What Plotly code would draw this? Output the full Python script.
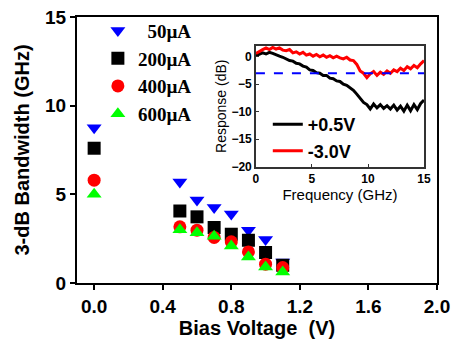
import plotly.graph_objects as go

# ---------------- main data ----------------
bias_v = [0.0, 0.5, 0.6, 0.7, 0.8, 0.9, 1.0, 1.1]
bw_50uA = [8.75, 5.7, 4.68, 4.26, 3.89, 2.98, 2.45, 1.19]
bw_200uA = [7.6, 4.06, 3.73, 3.13, 2.75, 2.41, 1.72, 1.0]
bw_400uA = [5.8, 3.17, 2.98, 2.57, 2.32, 1.75, 1.06, 0.87]
bw_600uA = [5.0, 3.0, 2.83, 2.64, 2.08, 1.47, 0.9, 0.62]
series_names = ["&nbsp;&nbsp;50µA", "200µA", "400µA", "600µA"]
x_ticks = [0.0, 0.4, 0.8, 1.2, 1.6, 2.0]
y_ticks = [0, 5, 10, 15]

# ---------------- inset data ----------------
freq_ghz = [0.0, 0.3, 0.6, 0.9, 1.2, 1.5, 1.8, 2.1, 2.4, 2.7, 3.0, 3.3, 3.6, 3.9,
            4.2, 4.5, 4.8, 5.1, 5.4, 5.7, 6.0, 6.3, 6.6, 6.9, 7.2, 7.5, 7.8, 8.1,
            8.4, 8.7, 9.0, 9.3, 9.6, 9.9, 10.2, 10.5, 10.8, 11.1, 11.4, 11.7,
            12.0, 12.3, 12.6, 12.9, 13.2, 13.5, 13.8, 14.1, 14.4, 14.7, 15.0]
resp_pos05 = [0.2, 0.5, 0.7, 0.5, 0.8, 0.6, 0.3, 0.1, -0.1, -0.4, -0.7, -0.8, -1.2,
              -1.3, -1.7, -1.9, -2.4, -2.5, -2.9, -3.0, -3.4, -3.4, -3.9, -4.0,
              -4.4, -4.5, -5.0, -5.2, -5.7, -6.1, -6.8, -7.5, -8.3, -8.7, -9.5,
              -8.6, -9.3, -8.7, -9.4, -8.9, -9.5, -8.8, -9.7, -9.0, -9.9, -8.8,
              -9.8, -8.7, -9.6, -8.5, -7.9]
resp_neg30 = [0.6, 1.0, 1.3, 1.6, 1.3, 1.7, 1.4, 1.6, 1.2, 1.1, 1.3, 0.7, 0.9, 0.5,
              0.8, 0.3, 0.5, 0.1, 0.4, 0.0, 0.3, -0.1, 0.2, -0.2, 0.1, -0.2, -0.4,
              -0.1, -0.6, -0.7, -1.4, -2.6, -3.0, -3.8, -3.1, -2.7, -3.4, -2.8,
              -3.2, -2.6, -3.0, -2.4, -2.7, -2.1, -2.5, -1.8, -2.2, -1.6, -2.0,
              -1.3, -0.7]
threshold_db = -3
inset_x_ticks = [0, 5, 10, 15]
inset_y_ticks = [0, -5, -10, -15, -20]

fig = go.Figure()

styles = [
    ("triangle-down", "#0000FF", bw_50uA),
    ("square", "#000000", bw_200uA),
    ("circle", "#FF0000", bw_400uA),
    ("triangle-up", "#00FF00", bw_600uA),
]
for name, (sym, col, vals) in zip(series_names, styles):
    fig.add_trace(go.Scatter(
        x=bias_v, y=vals, mode="markers", name=name,
        marker=dict(symbol=sym, color=col, size=13, line=dict(width=0)),
        legend="legend", xaxis="x", yaxis="y",
    ))

fig.add_trace(go.Scatter(
    x=freq_ghz, y=resp_pos05, mode="lines", name="+0.5V",
    line=dict(color="#000000", width=3), xaxis="x2", yaxis="y2", legend="legend2",
))
fig.add_trace(go.Scatter(
    x=freq_ghz, y=resp_neg30, mode="lines", name="-3.0V",
    line=dict(color="#FF0000", width=3), xaxis="x2", yaxis="y2", legend="legend2",
))

fig.add_shape(type="line", xref="x2 domain", x0=0, x1=1, yref="y2",
              y0=threshold_db, y1=threshold_db,
              line=dict(color="#0000FF", width=2, dash="dash"))

bold_font = dict(family="Liberation Sans, Arial", color="black", weight="bold")

fig.update_layout(
    width=453, height=345,
    margin=dict(l=77, r=16, t=17, b=62, autoexpand=False),
    paper_bgcolor="white", plot_bgcolor="white",
    showlegend=True,
    xaxis=dict(
        range=[-0.1, 2.0], tickvals=x_ticks, ticktext=[f"{v:.1f}" for v in x_ticks],
        showline=True, mirror=True, linecolor="black", linewidth=2,
        ticks="outside", ticklen=5, tickwidth=2, tickcolor="black",
        showgrid=False, zeroline=False, automargin=False,
        tickfont=dict(size=19, **bold_font),
        title=dict(text="Bias Voltage  (V)", font=dict(size=20, **bold_font), standoff=4),
    ),
    yaxis=dict(
        range=[0, 15], tickvals=y_ticks,
        showline=True, mirror=True, linecolor="black", linewidth=2,
        ticks="outside", ticklen=5, tickwidth=2, tickcolor="black",
        showgrid=False, zeroline=False, automargin=False,
        tickfont=dict(size=19, **bold_font),
        title=dict(text="3-dB Bandwidth (GHz)", font=dict(size=20, **bold_font), standoff=10),
    ),
    xaxis2=dict(
        domain=[0.497, 0.964], anchor="y2", range=[0, 15], tickvals=inset_x_ticks,
        showline=True, mirror=True, linecolor="#333333", linewidth=1.5,
        ticks="inside", ticklen=3, tickcolor="#333333",
        showgrid=False, zeroline=False, automargin=False,
        tickfont=dict(size=12, **bold_font),
        title=dict(text="Frequency (GHz)", font=dict(size=15, family="Liberation Sans, Arial", color="black"), standoff=2),
    ),
    yaxis2=dict(
        domain=[0.437, 0.892], anchor="x2", range=[-20, 2], tickvals=inset_y_ticks,
        showline=True, mirror=True, linecolor="#333333", linewidth=1.5,
        ticks="inside", ticklen=3, tickcolor="#333333",
        showgrid=False, zeroline=False, automargin=False,
        tickfont=dict(size=12, **bold_font),
        title=dict(text="Response (dB)", font=dict(size=14, family="Liberation Sans, Arial", color="black"), standoff=2),
    ),
    legend=dict(
        x=0.058, y=1.02, xanchor="left", yanchor="top",
        bgcolor="rgba(0,0,0,0)", borderwidth=0,
        font=dict(family="Liberation Serif, Times New Roman", size=19, color="black", weight="bold"),
        tracegroupgap=0,
    ),
    legend2=dict(
        x=0.53, y=0.665, xanchor="left", yanchor="top",
        bgcolor="rgba(0,0,0,0)", borderwidth=0,
        font=dict(size=18, **bold_font),
        tracegroupgap=0,
    ),
)

fig.write_html("out.html", config={"displayModeBar": False},
               post_script="document.body.style.margin='0';")
